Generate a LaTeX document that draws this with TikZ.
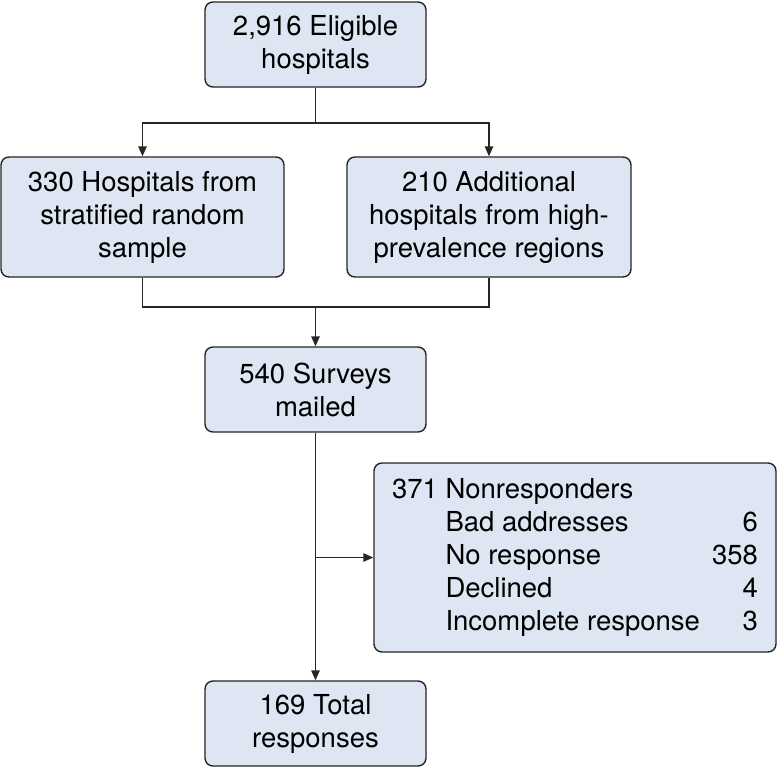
\documentclass[tikz,border=0pt]{standalone}
\usepackage{fontspec}
\setmainfont{TeX Gyre Heros}
\usetikzlibrary{arrows.meta}
\definecolor{boxfill}{RGB}{221,230,242}
\tikzset{
	box/.style={draw=black!85, line width=1.4pt, fill=boxfill, rounded corners=8pt,
		align=center, inner sep=0pt},
	link/.style={draw=black!85, line width=1.4pt},
	arr/.style={link, -{Triangle[length=10pt,width=8.5pt]}}
}
\begin{document}
\begin{tikzpicture}[x=1pt, y=-1pt, font=\fontsize{27.5}{33}\selectfont]
	\useasboundingbox (0,0) rectangle (777,769);
	%boxes
	\node[box, minimum width=221pt, minimum height=85pt] (eligible) at (315.5,44.5)
	{2,916 Eligible\\hospitals};
	\node[box, minimum width=283pt, minimum height=120pt] (stratified) at (142.5,217)
	{330 Hospitals from\\stratified random\\sample};
	\node[box, minimum width=284pt, minimum height=120pt] (additional) at (489,217)
	{210 Additional\\hospitals from high-\\prevalence regions};
	\node[box, minimum width=221pt, minimum height=85pt] (mailed) at (315.5,389.5)
	{540 Surveys\\mailed};
	\node[box, minimum width=402pt, minimum height=189pt, align=left] (nonresp) at (575,557.5)
	{\begin{tabular*}{366pt}{@{}l@{\ }l@{\extracolsep{\fill}}r@{}}
			371 & \multicolumn{2}{@{}l@{}}{Nonresponders}\\
			& Bad addresses & 6\\
			& No response & 358\\
			& Declined & 4\\
			& Incomplete response & 3
	\end{tabular*}};
	\node[box, minimum width=221pt, minimum height=85pt] (total) at (315.5,723.5)
	{169 Total\\responses};
	%connectors
	\coordinate (split) at (315.5,123);
	\coordinate (join) at (315.5,307);
	\coordinate (branch) at (315.5,557.5);
	\draw[link] (eligible) -- (split);
	\draw[arr] (split) -| (stratified);
	\draw[arr] (split) -| (additional);
	\draw[link] (stratified) |- (join);
	\draw[link] (additional) |- (join);
	\draw[arr] (join) -- (mailed);
	\draw[arr] (mailed) -- (total);
	\draw[arr] (branch) -- (nonresp);
\end{tikzpicture}
\end{document}
